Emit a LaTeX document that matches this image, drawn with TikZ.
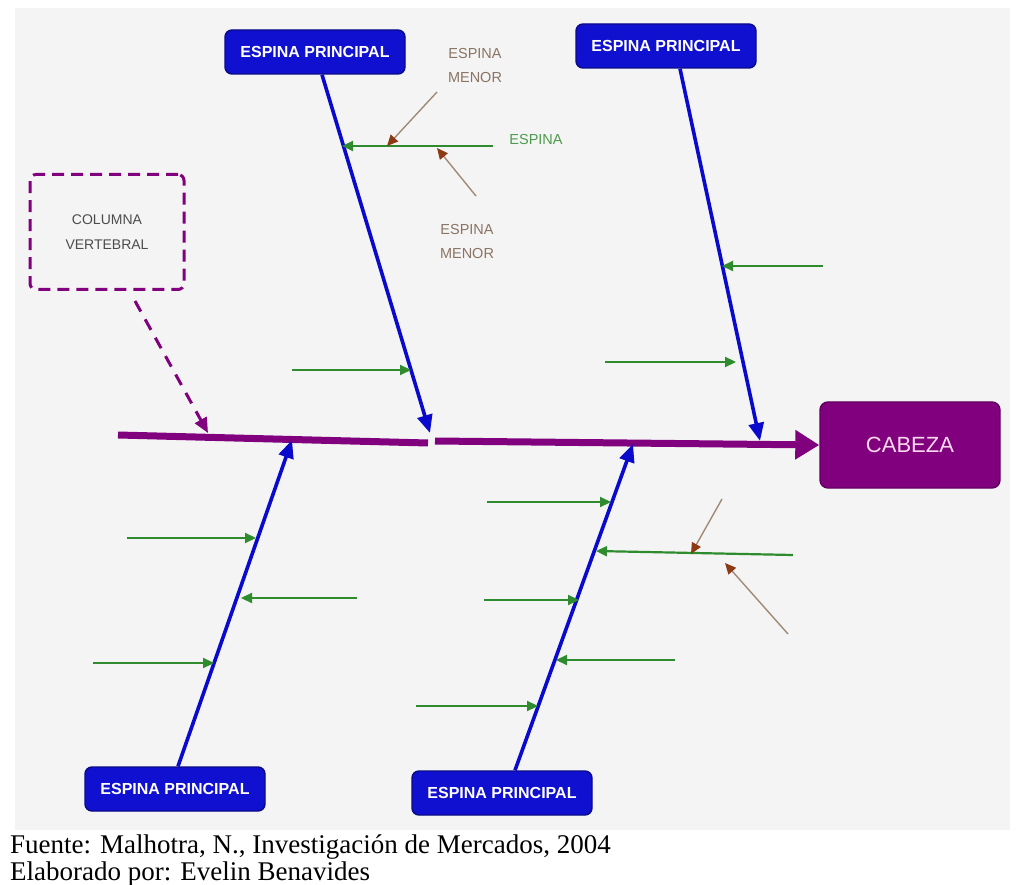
\documentclass[tikz,border=0pt]{standalone}
\usepackage{fontspec}
\setmainfont{Liberation Serif}
\setsansfont{Liberation Sans}
\usetikzlibrary{arrows.meta}
\definecolor{panel}{HTML}{F4F4F4}
\definecolor{boneblue}{HTML}{0A0ACC}
\definecolor{boxblue}{HTML}{1010D0}
\definecolor{spinepurple}{HTML}{80007E}
\definecolor{ribgreen}{HTML}{2E8B2E}
\definecolor{labelgreen}{HTML}{4E9A4E}
\definecolor{minorbrown}{HTML}{8B3A12}
\definecolor{minorshaft}{HTML}{A08A78}
\definecolor{minortext}{HTML}{8A7464}
\tikzset{
  mainbox/.style={draw=boxblue!65!black, line width=1.4pt, fill=boxblue, rounded corners=7pt,
    minimum width=180pt, minimum height=44pt, inner sep=0pt,
    text=white, font=\sffamily\bfseries\fontsize{16}{18}\selectfont},
  headbox/.style={draw=spinepurple!75!black, line width=1.4pt, fill=spinepurple, rounded corners=8pt,
    minimum width=180pt, minimum height=86pt, inner sep=0pt,
    text=white!85!magenta, font=\sffamily\fontsize{22}{24}\selectfont},
  noteboxstyle/.style={draw=spinepurple, line width=3pt, dash pattern=on 12pt off 7pt,
    rounded corners=6pt, minimum width=154pt, minimum height=115pt, inner sep=0pt,
    text=black!70, align=center, font=\sffamily\fontsize{14}{25}\selectfont},
  bone/.style={draw=boneblue, line width=3.6pt, -{Triangle[length=18pt,width=15pt]}},
  spineseg/.style={draw=spinepurple, line width=7pt},
  rib/.style={draw=ribgreen, line width=2.2pt, -{Triangle[length=11pt,width=10pt]}},
  minor/.style={draw=minorshaft, line width=1.4pt,
    -{Triangle[length=11pt,width=10pt,color=minorbrown]}},
  tag/.style={inner sep=0pt, align=center, font=\sffamily\fontsize{14.5}{24}\selectfont},
  caption/.style={inner sep=0pt, anchor=base west, font=\fontsize{27}{27}\selectfont}
}
\begin{document}
\begin{tikzpicture}[x=1pt,y=-1pt]
\useasboundingbox (0,0) rectangle (1018,885);
\fill[white] (0,0) rectangle (1018,885);
\fill[panel] (15,8) rectangle (1010,830);

% boxes
\node[mainbox] (tl) at (315,52) {ESPINA PRINCIPAL};
\node[mainbox] (tr) at (666,46) {ESPINA PRINCIPAL};
\node[mainbox] (bl) at (175,789) {ESPINA PRINCIPAL};
\node[mainbox] (br) at (502,793) {ESPINA PRINCIPAL};
\node[headbox] (head) at (910,445) {CABEZA};
\node[noteboxstyle] (note) at (107,232) {COLUMNA\\VERTEBRAL};

% backbone
\coordinate (s1) at (118,435);
\coordinate (s2) at (428,443);
\coordinate (s3) at (435,441);
\draw[spineseg] (s1) -- (s2);
\draw[spineseg, -{Triangle[length=24pt,width=28pt]}] (s3) -- (head.west);

% main bones
\coordinate (tlend) at (430,433);
\coordinate (trend) at (760,441);
\coordinate (blend) at (292,440);
\coordinate (brend) at (633,444);
\draw[bone] ([xshift=7pt]tl.south) -- (tlend);
\draw[bone] ([xshift=14pt]tr.south) -- (trend);
\draw[bone] ([xshift=3pt]bl.north) -- (blend);
\draw[bone] ([xshift=13pt]br.north) -- (brend);

% pointer from the note box
\coordinate (nt) at (208,433);
\draw[draw=spinepurple, line width=3pt, dash pattern=on 12pt off 9pt,
  -{Triangle[length=15pt,width=13pt]}] ([xshift=28pt,yshift=-10pt]note.south) -- (nt);

% ribs on the upper left bone
\coordinate (a1s) at (493,146); \coordinate (a1e) at (342,146);
\coordinate (a2s) at (292,370); \coordinate (a2e) at (411,370);
\draw[rib] (a1s) -- (a1e);
\draw[rib] (a2s) -- (a2e);
% ribs on the upper right bone
\coordinate (b1s) at (823,266); \coordinate (b1e) at (722,266);
\coordinate (b2s) at (605,362); \coordinate (b2e) at (736,362);
\draw[rib] (b1s) -- (b1e);
\draw[rib] (b2s) -- (b2e);
% ribs on the lower left bone
\coordinate (c1s) at (127,538); \coordinate (c1e) at (256,538);
\coordinate (c2s) at (357,598); \coordinate (c2e) at (241,598);
\coordinate (c3s) at (93,663);  \coordinate (c3e) at (214,663);
\draw[rib] (c1s) -- (c1e);
\draw[rib] (c2s) -- (c2e);
\draw[rib] (c3s) -- (c3e);
% ribs on the lower right bone
\coordinate (d1s) at (487,502); \coordinate (d1e) at (611,502);
\coordinate (d2s) at (793,555); \coordinate (d2e) at (596,551);
\coordinate (d3s) at (484,600); \coordinate (d3e) at (579,600);
\coordinate (d4s) at (675,660); \coordinate (d4e) at (556,660);
\coordinate (d5s) at (416,706); \coordinate (d5e) at (538,706);
\draw[rib] (d1s) -- (d1e);
\draw[rib] (d2s) -- (d2e);
\draw[rib] (d3s) -- (d3e);
\draw[rib] (d4s) -- (d4e);
\draw[rib] (d5s) -- (d5e);

% minor spines
\coordinate (m1s) at (437,92);  \coordinate (m1e) at (387,146);
\coordinate (m2s) at (476,196); \coordinate (m2e) at (437,148);
\coordinate (m3s) at (722,499); \coordinate (m3e) at (691,554);
\coordinate (m4s) at (788,634); \coordinate (m4e) at (725,563);
\draw[minor] (m1s) -- (m1e);
\draw[minor] (m2s) -- (m2e);
\draw[minor] (m3s) -- (m3e);
\draw[minor] (m4s) -- (m4e);

% tags
\node[tag, text=minortext] (t1) at (475,66) {ESPINA\\MENOR};
\node[tag, text=labelgreen] (t2) at (536,140) {ESPINA};
\node[tag, text=minortext] (t3) at (467,242) {ESPINA\\MENOR};

% caption
\node[caption] (cap1) at (10,853) {Fuente: Malhotra, N., Investigación de Mercados, 2004};
\node[caption] (cap2) at (10,880) {Elaborado por: Evelin Benavides};
\end{tikzpicture}
\end{document}
